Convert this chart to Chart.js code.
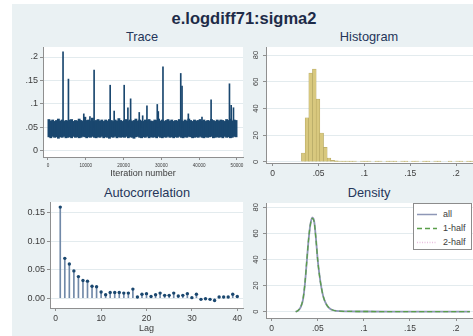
<!DOCTYPE html>
<html>
<head>
<meta charset="utf-8">
<script src="https://cdn.jsdelivr.net/npm/chart.js@4.4.1/dist/chart.umd.min.js"></script>
<style>
  body { margin: 0; width: 473px; height: 336px; background: #fff; overflow: hidden;
         font-family: "Liberation Sans", Arial, sans-serif; }
  #bg { position: absolute; left: 12px; top: 4px; width: 461px; height: 332px; background: #eaf1f3; }
  .ttl { position: absolute; color: #25365a; white-space: nowrap; line-height: 1;
         transform: translate(-50%, -50%); }
  #main { left: 244px; top: 18px; font-size: 16.5px; font-weight: bold; color: #1d2b48; }
  .sub { font-size: 12.8px; }
  canvas { position: absolute; }
  #legend { position: absolute; left: 413px; top: 203px; width: 57px; height: 45px;
            background: #fff; border: 1px solid #8c8c8c; font-size: 9px; color: #3c3c3c; }
  #legend .row { position: absolute; left: 0; width: 57px; height: 14px; line-height: 14px; white-space: nowrap; }
  #legend svg { position: absolute; left: 3px; top: 6px; }
  #legend span { position: absolute; left: 29px; top: 0; }
</style>
</head>
<body>
<div id="bg"></div>
<div class="ttl" id="main">e.logdiff71:sigma2</div>
<div class="ttl sub" style="left:142px; top:37px">Trace</div>
<div class="ttl sub" style="left:369px; top:37px">Histogram</div>
<div class="ttl sub" style="left:147px; top:193px">Autocorrelation</div>
<div class="ttl sub" style="left:369px; top:193px">Density</div>

<canvas id="trace" width="240" height="146" style="left:12px; top:40px"></canvas>
<canvas id="hist" width="233" height="146" style="left:240px; top:40px"></canvas>
<canvas id="acf" width="240" height="146" style="left:12px; top:190px"></canvas>
<canvas id="dens" width="233" height="146" style="left:240px; top:190px"></canvas>

<div id="legend">
  <div class="row" style="top:3px"><svg width="20" height="3"><line x1="0" y1="1.5" x2="20" y2="1.5" stroke="#8e97b6" stroke-width="1.5"/></svg><span>all</span></div>
  <div class="row" style="top:17px"><svg width="20" height="3"><line x1="0" y1="1.5" x2="20" y2="1.5" stroke="#5a9e4a" stroke-width="1.5" stroke-dasharray="5 3"/></svg><span>1-half</span></div>
  <div class="row" style="top:31px"><svg width="20" height="3"><line x1="0" y1="1.5" x2="20" y2="1.5" stroke="#e9bfe0" stroke-width="1.5" stroke-dasharray="1 1.5"/></svg><span>2-half</span></div>
</div>

<script>
// ---- trace: chain summarised in bins of 500 iterations (low / high of the band)
var traceBin = 500;
var traceLo = [0.030,0.028,0.031,0.029,0.030,0.027,0.030,0.029,0.031,0.028,
               0.029,0.030,0.028,0.031,0.029,0.030,0.028,0.029,0.031,0.030,
               0.028,0.030,0.029,0.031,0.029,0.028,0.030,0.029,0.031,0.028,
               0.030,0.029,0.027,0.030,0.029,0.031,0.028,0.030,0.029,0.030,
               0.029,0.031,0.028,0.030,0.029,0.027,0.030,0.031,0.029,0.028,
               0.030,0.029,0.031,0.028,0.030,0.029,0.030,0.028,0.031,0.029,
               0.028,0.030,0.029,0.031,0.029,0.030,0.028,0.030,0.029,0.031,
               0.029,0.028,0.030,0.029,0.031,0.030,0.028,0.029,0.030,0.029,
               0.031,0.029,0.028,0.030,0.029,0.030,0.031,0.028,0.029,0.030,
               0.029,0.030,0.028,0.031,0.029,0.030,0.028,0.029,0.031,0.030];
var traceHi = [0.067,0.064,0.066,0.063,0.065,0.068,0.064,0.066,0.063,0.065,
               0.064,0.066,0.067,0.063,0.065,0.064,0.068,0.065,0.063,0.072,
               0.065,0.066,0.064,0.070,0.063,0.065,0.067,0.064,0.066,0.063,
               0.066,0.064,0.067,0.065,0.063,0.066,0.064,0.069,0.065,0.063,
               0.065,0.067,0.064,0.066,0.063,0.065,0.068,0.064,0.066,0.064,
               0.063,0.066,0.065,0.067,0.064,0.063,0.066,0.065,0.068,0.064,
               0.066,0.063,0.065,0.067,0.064,0.066,0.063,0.065,0.064,0.067,
               0.065,0.063,0.066,0.064,0.068,0.065,0.063,0.066,0.064,0.065,
               0.067,0.064,0.066,0.063,0.065,0.064,0.067,0.065,0.063,0.066,
               0.064,0.066,0.065,0.063,0.067,0.065,0.068,0.064,0.066,0.065];
// isolated draws that jump out of the band
var spikeIter = [3980, 5410, 9470, 11100, 12200, 16450, 17510, 20160, 21140, 21860, 24140, 25050,
                 26180, 28910, 29180, 30420, 35120, 35460, 37130, 40740, 43150, 48010, 48460, 49070];
var spikeTop  = [0.211, 0.153, 0.079, 0.073, 0.172, 0.140, 0.085, 0.140, 0.092, 0.111, 0.082, 0.075,
                 0.096, 0.099, 0.084, 0.179, 0.165, 0.138, 0.079, 0.072, 0.109, 0.143, 0.097, 0.092];
var traceXTicks = [0, 10000, 20000, 30000, 40000, 50000];
var traceXLabels = ['0', '10000', '20000', '30000', '40000', '50000'];
var traceYTicks = [0, 0.05, 0.1, 0.15, 0.2];
var traceYLabels = ['0', '.05', '.1', '.15', '.2'];

// ---- histogram
var histMid = [0.0334,0.0374,0.0414,0.0454,0.0494,0.0534,0.0574,0.0614,0.0654,0.0694,
               0.0734,0.0774,0.0814,0.0854,0.0894,0.0934,0.0974,0.1014,0.1054,0.1094,
               0.1134,0.1174,0.1214,0.1254,0.1294,0.1334,0.1374,0.1414,0.1454,0.1494,
               0.1534,0.1574,0.1614,0.1654,0.1694,0.1734,0.1774,0.1814,0.1854,0.1894,
               0.1934,0.1974,0.2014,0.2054,0.2094,0.2134,0.2174];
var histDens = [6.7, 33, 66.5, 69.5, 47, 21.7, 11, 3, 1.2, 0.8,
                0.7, 0.6, 0.7, 0.6, 0.7, 0, 0.7, 0.6, 0.7, 0,
                0.6, 0.7, 0, 0.6, 0.7, 0.6, 0, 0.7, 0.6, 0,
                0.6, 0.7, 0, 0.6, 0.6, 0, 0.7, 0.6, 0, 0,
                0.6, 0, 0.7, 0.6, 0, 0.6, 0.6];
var histYTicks = [0, 20, 40, 60, 80];
var histYLabels = ['0', '20', '40', '60', '80'];
var sigmaTicks = [0, 0.05, 0.1, 0.15, 0.2];
var sigmaLabels = ['0', '.05', '.1', '.15', '.2'];

// ---- autocorrelation, lags 1..40
var acfLag = [1,2,3,4,5,6,7,8,9,10,11,12,13,14,15,16,17,18,19,20,
              21,22,23,24,25,26,27,28,29,30,31,32,33,34,35,36,37,38,39,40];
var acfVal = [0.160, 0.070, 0.060, 0.048, 0.038, 0.031, 0.030, 0.021, 0.020, 0.011,
              0.006, 0.010, 0.010, 0.010, 0.009, 0.009, 0.016, 0.002, 0.007, 0.008,
              0.003, 0.006, 0.009, 0.005, 0.005, 0.009, 0.004, 0.005, 0.008, 0.001,
              0.007, -0.002, -0.001, -0.002, -0.004, 0.002, 0.002, 0.002, 0.007, 0.003];
var acfXTicks = [0, 10, 20, 30, 40];
var acfYTicks = [0, 0.05, 0.1, 0.15];
var acfYLabels = ['0.00', '0.05', '0.10', '0.15'];

// ---- kernel density: whole chain, first half, second half
var densX  = [0.026,0.028,0.030,0.032,0.034,0.036,0.038,0.040,0.042,0.044,0.046,0.048,0.050,0.052,
              0.054,0.056,0.058,0.060,0.063,0.066,0.070,0.080,0.100,0.130,0.160,0.190,0.215];
var densAll = [0,0.5,1.8,4.5,9.5,21,38,55,67,72,69.5,56,39,27,18,11.5,7.5,4.8,2.5,1.3,0.6,0.25,0.15,0.1,0.08,0.05,0.04];
var densH1  = [0,0.6,1.9,4.6,9.8,21.5,38.5,55.5,67,71.5,69,55.5,38.8,27,18,11.6,7.6,4.9,2.6,1.3,0.6,0.25,0.15,0.1,0.08,0.05,0.04];
var densH2  = [0,0.4,1.7,4.4,9.2,20.5,37.5,54.5,67,72.5,70,56.5,39.2,27,18,11.4,7.4,4.7,2.4,1.3,0.6,0.25,0.15,0.1,0.08,0.05,0.04];

var NAVY = '#1a476f', AXIS = '#8f8f8f', GRID = '#e3ebee', TXT = '#3c3c3c';

Chart.defaults.font.family = '"Liberation Sans", Arial, sans-serif';
Chart.defaults.color = TXT;
Chart.defaults.animation = false;
Chart.defaults.plugins.legend.display = false;
Chart.defaults.plugins.tooltip.enabled = false;

// white plot region
var plotBg = {
  id: 'plotBg',
  beforeDraw: function(chart) {
    var a = chart.chartArea, ctx = chart.ctx;
    ctx.save();
    ctx.fillStyle = '#ffffff';
    ctx.fillRect(a.left, a.top, a.right - a.left, a.bottom - a.top);
    ctx.restore();
  }
};

function fixedSize(size) {
  return function(scale) {
    if (scale.isHorizontal()) scale.height = size; else scale.width = size;
    scale.paddingLeft = scale.paddingRight = scale.paddingTop = scale.paddingBottom = 0;
  };
}
function useTicks(values) {
  return function(scale) { scale.ticks = values.map(function(v) { return { value: v }; }); };
}

function xScale(min, max, ticks, labels, size, fontSize, pad, title) {
  return {
    type: 'linear', offset: false, min: min, max: max,
    afterBuildTicks: useTicks(ticks), afterFit: fixedSize(size),
    grid: { display: true, offset: false, drawOnChartArea: false, tickLength: 3, tickColor: AXIS },
    border: { display: true, color: AXIS, width: 1 },
    ticks: { autoSkip: false, maxRotation: 0, padding: pad, font: { size: fontSize },
             callback: function(v, i) { return labels[i]; } },
    title: title
  };
}
function yScale(min, max, ticks, labels, size, fontSize, pad, rotated) {
  return {
    type: 'linear', min: min, max: max,
    afterBuildTicks: useTicks(ticks), afterFit: fixedSize(size),
    grid: { display: true, color: GRID, tickColor: AXIS, tickLength: 3 },
    border: { display: true, color: AXIS, width: 1 },
    ticks: { padding: pad, font: { size: fontSize },
             minRotation: rotated ? 90 : 0, maxRotation: rotated ? 90 : 0,
             crossAlign: rotated ? 'center' : 'near',
             callback: function(v, i) { return labels[i]; } }
  };
}

// Trace
var band = traceLo.map(function(lo, i) { return { x: i * traceBin + traceBin / 2, y: [lo, traceHi[i]] }; });
var spikes = spikeIter.map(function(it, i) { return { x: it, y: [0.05, spikeTop[i]] }; });
new Chart(document.getElementById('trace'), {
  type: 'bar',
  data: { datasets: [
    { data: spikes, backgroundColor: NAVY, barThickness: 1, grouped: false },
    { data: band, backgroundColor: NAVY, barThickness: 2.2, grouped: false }
  ] },
  options: {
    responsive: false,
    layout: { padding: { left: 0, right: 9, top: 7, bottom: 0 } },
    scales: {
      x: xScale(-1320, 51590, traceXTicks, traceXLabels, 29, 4.6, 3,
                { display: true, text: 'Iteration number', color: TXT,
                  font: { size: 9, lineHeight: 1 }, padding: { top: 0, bottom: 8 } }),
      y: yScale(-0.0128, 0.2213, traceYTicks, traceYLabels, 31, 9, 2, false)
    }
  },
  plugins: [plotBg]
});

// Histogram
new Chart(document.getElementById('hist'), {
  type: 'bar',
  data: { datasets: [{
    data: histMid.map(function(m, i) { return { x: m, y: histDens[i] }; }),
    backgroundColor: '#d8c87e', borderColor: '#a99b56', borderWidth: 0.5,
    categoryPercentage: 1, barPercentage: 1
  }] },
  options: {
    responsive: false,
    layout: { padding: { left: 0, right: 0, top: 7, bottom: 0 } },
    scales: {
      x: xScale(-0.0073, 0.2184, sigmaTicks, sigmaLabels, 23, 8.5, 2.5, { display: false }),
      y: yScale(-0.75, 86, histYTicks, histYLabels, 26, 7.5, 2.5, true)
    }
  },
  plugins: [plotBg]
});

// Autocorrelation
new Chart(document.getElementById('acf'), {
  type: 'bar',
  data: { datasets: [
    { type: 'line', data: acfLag.map(function(l, i) { return { x: l, y: acfVal[i] }; }),
      showLine: false, pointRadius: 1.7, pointBackgroundColor: NAVY, pointBorderWidth: 0 },
    { data: acfLag.map(function(l, i) { return { x: l, y: acfVal[i] }; }),
      backgroundColor: '#7189a8', barThickness: 1, grouped: false }
  ] },
  options: {
    responsive: false,
    layout: { padding: { left: 0, right: 9, top: 12, bottom: 0 } },
    scales: {
      x: xScale(-1.26, 41.26, acfXTicks, ['0', '10', '20', '30', '40'], 28, 8.5, 3,
                { display: true, text: 'Lag', color: TXT,
                  font: { size: 9, lineHeight: 1 }, padding: { top: 0, bottom: 2.5 } }),
      y: yScale(-0.0172, 0.169, acfYTicks, acfYLabels, 38, 9, 2, false)
    }
  },
  plugins: [plotBg]
});

// Density
function densSet(vals) { return densX.map(function(x, i) { return { x: x, y: vals[i] }; }); }
new Chart(document.getElementById('dens'), {
  type: 'line',
  data: { datasets: [
    { label: '1-half', data: densSet(densH1), borderColor: '#5a9e4a', borderWidth: 1.3, borderDash: [5, 3] },
    { label: 'all', data: densSet(densAll), borderColor: '#8e97b6', borderWidth: 1.8 },
    { label: '2-half', data: densSet(densH2), borderColor: '#e9bfe0', borderWidth: 1.2, borderDash: [1, 1.5] }
  ] },
  options: {
    responsive: false,
    elements: { point: { radius: 0 }, line: { cubicInterpolationMode: 'monotone' } },
    layout: { padding: { left: 0, right: 0, top: 13, bottom: 0 } },
    scales: {
      x: xScale(-0.0062, 0.2184, sigmaTicks, sigmaLabels, 18, 8.5, 3, { display: false }),
      y: yScale(-4.83, 83.3, histYTicks, histYLabels, 26, 7.5, 2.5, true)
    }
  },
  plugins: [plotBg]
});
</script>
</body>
</html>
